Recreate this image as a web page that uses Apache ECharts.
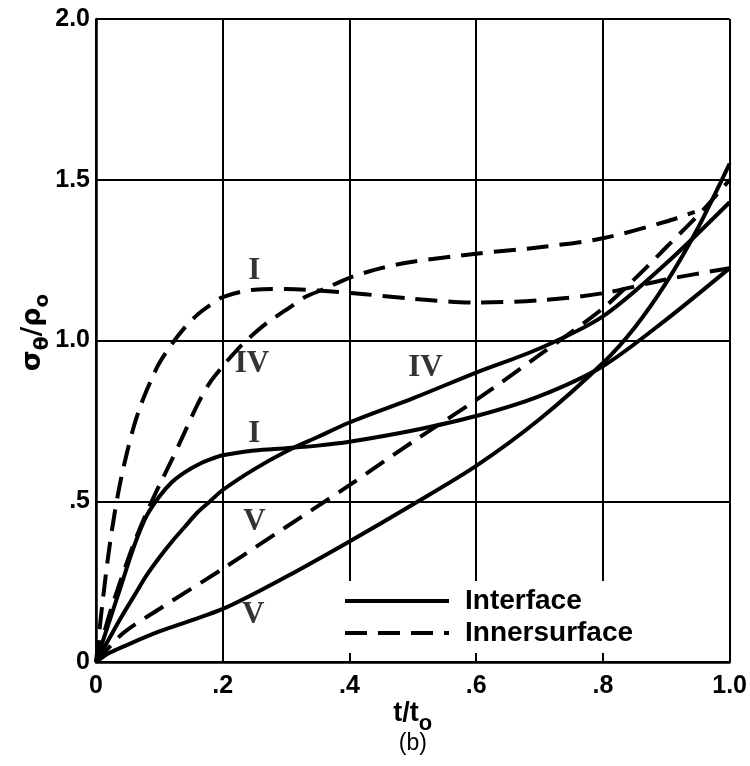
<!DOCTYPE html>
<html>
<head>
<meta charset="utf-8">
<script src="https://cdn.jsdelivr.net/npm/echarts@6/dist/echarts.min.js"></script>
<style>html,body{margin:0;padding:0;background:#fff}#c{width:750px;height:766px}</style>
</head>
<body>
<div id="c"></div>
<script>
// ---- data ----
const xTicks = [0, 0.2, 0.4, 0.6, 0.8, 1.0];
const xTickLabels = ['0', '.2', '.4', '.6', '.8', '1.0'];
const yTicks = [0, 0.5, 1.0, 1.5, 2.0];
const yTickLabels = ['0', '.5', '1.0', '1.5', '2.0'];

// Interface (solid)
const solidI = [[0,0],[0.02,0.12],[0.04,0.24],[0.06,0.36],[0.08,0.455],[0.1,0.515],[0.12,0.56],[0.14,0.59],[0.16,0.613],[0.18,0.63],[0.2,0.643],[0.25,0.658],[0.3,0.665],[0.35,0.673],[0.4,0.685],[0.5,0.72],[0.6,0.765],[0.7,0.827],[0.8,0.92],[0.9,1.065],[1.0,1.225]];
const solidIV = [[0,0],[0.02,0.07],[0.04,0.14],[0.06,0.205],[0.08,0.27],[0.1,0.325],[0.12,0.375],[0.14,0.42],[0.16,0.465],[0.18,0.5],[0.2,0.535],[0.25,0.6],[0.3,0.655],[0.35,0.7],[0.4,0.745],[0.5,0.82],[0.6,0.9],[0.7,0.975],[0.8,1.075],[0.9,1.24],[1.0,1.43]];
const solidV = [[0,0],[0.02,0.027],[0.043,0.048],[0.1,0.095],[0.2,0.165],[0.3,0.265],[0.4,0.375],[0.5,0.49],[0.6,0.61],[0.7,0.755],[0.8,0.93],[0.85,1.04],[0.9,1.18],[0.95,1.35],[1.0,1.55]];

// Innersurface (dashed)
const dashedI = [[0,0],[0.01,0.18],[0.02,0.34],[0.03,0.47],[0.04,0.575],[0.05,0.66],[0.06,0.735],[0.07,0.795],[0.08,0.845],[0.09,0.89],[0.1,0.93],[0.12,0.99],[0.14,1.04],[0.16,1.08],[0.18,1.11],[0.2,1.135],[0.25,1.158],[0.3,1.16],[0.4,1.148],[0.5,1.13],[0.6,1.118],[0.7,1.125],[0.8,1.147],[0.9,1.19],[1.0,1.225]];
const dashedIV = [[0,0],[0.02,0.14],[0.04,0.26],[0.06,0.37],[0.08,0.465],[0.1,0.55],[0.12,0.63],[0.14,0.715],[0.16,0.8],[0.18,0.87],[0.2,0.92],[0.22,0.965],[0.24,1.005],[0.27,1.055],[0.3,1.095],[0.33,1.135],[0.36,1.16],[0.4,1.195],[0.45,1.225],[0.5,1.245],[0.6,1.27],[0.7,1.29],[0.8,1.318],[0.9,1.37],[0.945,1.40]];
const dashedV = [[0,0],[0.043,0.09],[0.1,0.165],[0.2,0.29],[0.3,0.42],[0.4,0.55],[0.5,0.685],[0.6,0.815],[0.7,0.955],[0.8,1.1],[0.87,1.23],[0.9,1.29],[0.96,1.41],[1.0,1.5]];

// curve labels (Roman numerals)
const labelTexts = ['I', 'IV', 'I', 'V', 'V', 'IV'];
const labelX = [0.25, 0.246, 0.25, 0.25, 0.248, 0.52];
const labelY = [1.216, 0.928, 0.709, 0.437, 0.147, 0.913];

const legendNames = ['Interface', 'Innersurface'];

// ---- chart ----
const chart = echarts.init(document.getElementById('c'), null, {renderer: 'canvas'});
const tickFont = {fontFamily: 'Liberation Sans', fontWeight: 'bold', fontSize: 25, color: '#000'};
const fmt = (ticks, labels) => v => { const i = ticks.findIndex(t => Math.abs(t - v) < 1e-9); return i >= 0 ? labels[i] : ''; };

function curve(name, data, dashed) {
  return {
    type: 'line', name: name, data: data, symbol: 'none', showSymbol: false,
    smooth: 0.3, silent: true,
    lineStyle: {color: '#000', width: 4, type: dashed ? [22, 11] : 'solid', cap: 'butt'},
    itemStyle: {color: '#000', opacity: 0}
  };
}

const option = {
  animation: false,
  backgroundColor: '#fff',
  grid: {left: 96, right: 17, top: 19, bottom: 104, containLabel: false},
  xAxis: {
    type: 'value', min: 0, max: 1, interval: 0.2,
    axisLine: {show: true, lineStyle: {color: '#000', width: 2.5}},
    axisTick: {show: false},
    splitLine: {show: true, lineStyle: {color: '#000', width: 2}},
    axisLabel: Object.assign({margin: 12, formatter: fmt(xTicks, xTickLabels)}, tickFont),
    name: '{t|t/t}{o|o}\n{b|(b)}',
    nameLocation: 'middle', nameGap: 38, nameMoveOverlap: false,
    nameTextStyle: {
      rich: {
        t: {fontFamily: 'Liberation Sans', fontWeight: 'bold', fontSize: 27, lineHeight: 26, verticalAlign: 'top', color: '#000'},
        o: {fontFamily: 'Liberation Sans', fontWeight: 'bold', fontSize: 22, lineHeight: 20, padding: [13, 0, 0, 0], verticalAlign: 'top', color: '#000'},
        b: {fontFamily: 'Liberation Sans', fontSize: 23, lineHeight: 36, color: '#000'}
      }
    }
  },
  yAxis: {
    type: 'value', min: 0, max: 2, interval: 0.5,
    axisLine: {show: true, lineStyle: {color: '#000', width: 2.5}},
    axisTick: {show: false},
    splitLine: {show: true, lineStyle: {color: '#000', width: 2}},
    axisLabel: Object.assign({margin: 6, formatter: fmt(yTicks, yTickLabels)}, tickFont),
    name: '{a|σ}{s|θ}{a|/ρ}{s|o}',
    nameLocation: 'middle', nameGap: 51, nameRotate: 90, nameMoveOverlap: false,
    nameTextStyle: {
      padding: [0, 0, 0, 16],
      rich: {
        a: {fontFamily: 'DejaVu Sans', fontWeight: 'bold', fontSize: 27, lineHeight: 26, verticalAlign: 'top', color: '#000'},
        s: {fontFamily: 'DejaVu Sans', fontWeight: 'bold', fontSize: 20, lineHeight: 19, padding: [14, 0, 0, 0], verticalAlign: 'top', color: '#000'}
      }
    }
  },
  legend: {
    data: legendNames,
    orient: 'vertical', left: 335, top: 581,
    itemWidth: 104, itemHeight: 20, itemGap: 4,
    padding: [6, 12, 6, 8],
    backgroundColor: '#fff',
    selectedMode: false,
    itemStyle: {opacity: 0},
    lineStyle: {width: 4},
    textStyle: {fontFamily: 'Liberation Sans', fontWeight: 'bold', fontSize: 28, lineHeight: 26, color: '#000', padding: [0, 0, 0, 11]}
  },
  series: [
    curve('Interface', solidI, false),
    curve('Interface', solidIV, false),
    curve('Interface', solidV, false),
    curve('Innersurface', dashedI, true),
    curve('Innersurface', dashedIV, true),
    curve('Innersurface', dashedV, true),
    {
      type: 'scatter', name: 'labels', symbol: 'circle', symbolSize: 1, silent: true,
      itemStyle: {color: 'rgba(0,0,0,0)'},
      data: labelTexts.map((t, i) => [labelX[i], labelY[i], t]),
      label: {
        show: true, position: 'inside', formatter: p => p.data[2],
        fontFamily: 'Liberation Serif', fontWeight: 'bold', fontSize: 31, color: '#000'
      },
      z: 5
    }
  ]
};
chart.setOption(option);
</script>
</body>
</html>
